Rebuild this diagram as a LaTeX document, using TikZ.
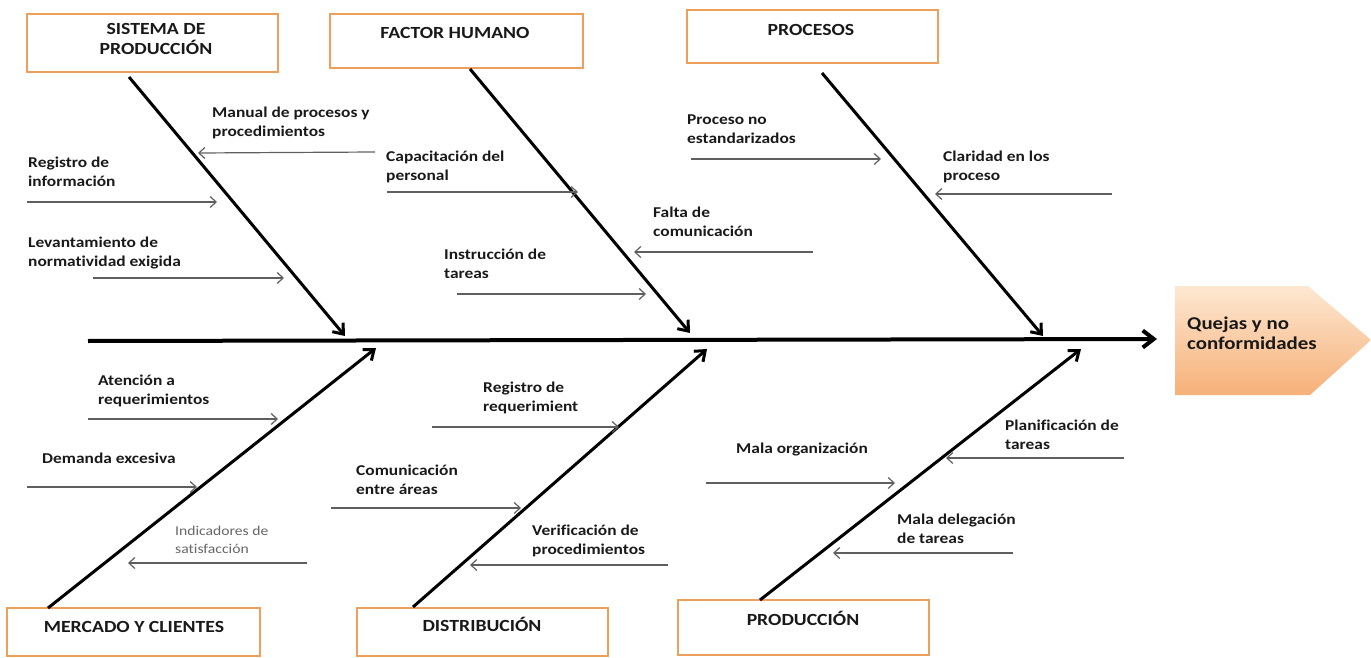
\documentclass[tikz,border=0pt]{standalone}
\usepackage{fontspec}
\setmainfont{Carlito}
\newfontfamily\labf[FakeStretch=1.16,Ligatures={NoCommon}]{Carlito}
\usetikzlibrary{arrows.meta}
\definecolor{boxc}{RGB}{236,160,92}
\definecolor{subc}{RGB}{95,95,95}
\definecolor{headtop}{RGB}{253,232,210}
\definecolor{headbot}{RGB}{246,176,120}
\definecolor{txt}{RGB}{25,25,25}
\begin{document}
\begin{tikzpicture}[x=1pt,y=-1pt,
  catbox/.style={draw=boxc,line width=2.4pt,fill=white,inner sep=0pt},
  cattext/.style={font=\labf\bfseries\fontsize{17}{20}\selectfont,inner sep=0pt,align=center,text=txt},
  lbl/.style={font=\labf\bfseries\fontsize{15}{18.7}\selectfont,inner sep=0pt,anchor=north west,align=left,text=txt},
  lbllight/.style={font=\labf\fontsize{13.5}{17.5}\selectfont,inner sep=0pt,anchor=north west,align=left,text=black!60},
  bone/.style={line width=3pt,-{Straight Barb[length=9pt,width=14pt]}},
  spine/.style={line width=4pt,-{Straight Barb[length=11pt,width=17pt]}},
  sub/.style={draw=subc,line width=1.2pt,-{Straight Barb[length=6pt,width=11pt]}}]
\useasboundingbox (0,0) rectangle (1371,658);

% category boxes
\node[catbox,minimum width=251pt,minimum height=58pt] (bsp) at (152.5,43) {};
\node[catbox,minimum width=253pt,minimum height=54pt] (bfh) at (456.5,41) {};
\node[catbox,minimum width=251pt,minimum height=53pt] (bpr) at (812.5,36.5) {};
\node[catbox,minimum width=253pt,minimum height=48pt] (bmc) at (133.5,632) {};
\node[catbox,minimum width=251pt,minimum height=48pt] (bdi) at (482.5,632) {};
\node[catbox,minimum width=251pt,minimum height=55pt] (bpo) at (803.5,627.5) {};

\node[cattext,anchor=north] (tsp) at (156,23) {SISTEMA DE\\PRODUCCIÓN};
\node[cattext,anchor=base] (tfh) at (455,39) {FACTOR HUMANO};
\node[cattext,anchor=base] (tpr) at (811,36) {PROCESOS};
\node[cattext,anchor=base] (tmc) at (134,632) {MERCADO Y CLIENTES};
\node[cattext,anchor=base] (tdi) at (482,631) {DISTRIBUCIÓN};
\node[cattext,anchor=base] (tpo) at (803,625) {PRODUCCIÓN};

% head
\path[top color=headtop,bottom color=headbot]
  (1175,286) -- (1308,286) -- (1371,340) -- (1310,395) -- (1175,395) -- cycle;
\node[inner sep=0pt,anchor=north west,align=left,text=txt,
  font=\labf\bfseries\fontsize{18}{19.5}\selectfont] (head) at (1187,317)
  {Quejas y no\\conformidades};

% spine
\coordinate (s0) at (88,341);
\coordinate (s1) at (1157,339);
\draw[spine] (s0) -- (s1);

% bones
\coordinate (b1s) at (129,77);  \coordinate (b1e) at (345,336);
\coordinate (b2s) at (470,69);  \coordinate (b2e) at (690,333);
\coordinate (b3s) at (822,73);  \coordinate (b3e) at (1043,336);
\coordinate (b4s) at (48,608);  \coordinate (b4e) at (376,348);
\coordinate (b5s) at (413,607); \coordinate (b5e) at (707,349);
\coordinate (b6s) at (760,600); \coordinate (b6e) at (1081,349);
\draw[bone] (b1s) -- (b1e);
\draw[bone] (b2s) -- (b2e);
\draw[bone] (b3s) -- (b3e);
\draw[bone] (b4s) -- (b4e);
\draw[bone] (b5s) -- (b5e);
\draw[bone] (b6s) -- (b6e);

% sub-cause arrows
\coordinate (a1s) at (375,152);  \coordinate (a1e) at (198,153);
\coordinate (a2s) at (27,202);   \coordinate (a2e) at (217,202);
\coordinate (a3s) at (93,278);   \coordinate (a3e) at (284,278);
\coordinate (a4s) at (387,192);  \coordinate (a4e) at (578,192);
\coordinate (a5s) at (457,294);  \coordinate (a5e) at (646,294);
\coordinate (a6s) at (813,252);  \coordinate (a6e) at (634,252);
\coordinate (a7s) at (691,159);  \coordinate (a7e) at (881,159);
\coordinate (a8s) at (1112,194); \coordinate (a8e) at (935,194);
\coordinate (a9s) at (88,419);   \coordinate (a9e) at (278,419);
\coordinate (a10s) at (27,487);  \coordinate (a10e) at (197,487);
\coordinate (a11s) at (307,563); \coordinate (a11e) at (128,563);
\coordinate (a12s) at (331,508); \coordinate (a12e) at (521,508);
\coordinate (a13s) at (432,427); \coordinate (a13e) at (619,427);
\coordinate (a14s) at (668,565); \coordinate (a14e) at (470,565);
\coordinate (a15s) at (706,483); \coordinate (a15e) at (895,483);
\coordinate (a16s) at (1124,458);\coordinate (a16e) at (946,458);
\coordinate (a17s) at (1013,553);\coordinate (a17e) at (833,553);
\foreach \i in {1,...,17} {\draw[sub] (a\i s) -- (a\i e);}

% labels
\node[lbl] (l1) at (212,107) {Manual de procesos y\\procedimientos};
\node[lbl] (l2) at (28,157) {Registro de\\información};
\node[lbl] (l3) at (28,237) {Levantamiento de\\normatividad exigida};
\node[lbl] (l4) at (386,151) {Capacitación del\\personal};
\node[lbl] (l5) at (444,249) {Instrucción de\\tareas};
\node[lbl] (l6) at (653,207) {Falta de\\comunicación};
\node[lbl] (l7) at (687,115) {Proceso no\\estandarizados};
\node[lbl] (l8) at (943,151) {Claridad en los\\proceso};
\node[lbl] (l9) at (98,375) {Atención a\\requerimientos};
\node[lbl] (l10) at (42,453) {Demanda excesiva};
\node[lbllight] (l11) at (175,526) {Indicadores de\\satisfacción};
\node[lbl] (l12) at (356,465) {Comunicación\\entre áreas};
\node[lbl] (l13) at (483,382) {Registro de\\requerimient};
\node[lbl] (l14) at (532,525) {Verificación de\\procedimientos};
\node[lbl] (l15) at (736,443) {Mala organización};
\node[lbl] (l16) at (1005,420) {Planificación de\\tareas};
\node[lbl] (l17) at (897,514) {Mala delegación\\de tareas};
\end{tikzpicture}
\end{document}
